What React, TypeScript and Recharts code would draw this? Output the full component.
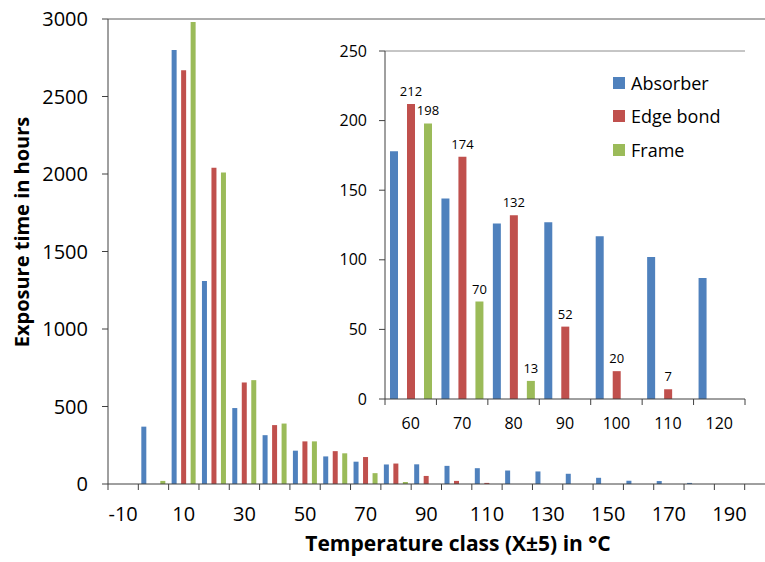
import { BarChart, Bar, XAxis, YAxis, ReferenceLine, LabelList } from "recharts";

// temperature classes, 10 K wide (X±5)
const classes = ["-10", "0", "10", "20", "30", "40", "50", "60", "70", "80", "90", "100", "110", "120", "130", "140", "150", "160", "170", "180", "190", "200"];
const absorber = [0, 370, 2800, 1310, 490, 315, 215, 178, 144, 126, 127, 117, 102, 87, 81, 66, 40, 21, 19, 7, 0, 0];
const edgeBond = [0, 0, 2670, 2040, 655, 380, 275, 212, 174, 132, 52, 20, 7, 0, 0, 0, 0, 0, 0, 0, 0, 0];
const frame = [0, 20, 2980, 2010, 670, 390, 275, 198, 70, 13, 0, 0, 0, 0, 0, 0, 0, 0, 0, 0, 0, 0];
const hourTicks = [0, 500, 1000, 1500, 2000, 2500, 3000];

// detail view of the high temperature range
const zoomFrom = classes.indexOf("60");
const zoomTo = classes.indexOf("120") + 1;
const zoomTicks = [0, 50, 100, 150, 200, 250];

const series = [
  { key: "absorber", name: "Absorber", color: "#4F81BD" },
  { key: "edgeBond", name: "Edge bond", color: "#C0504D" },
  { key: "frame", name: "Frame", color: "#9BBB59" },
];

const FONT = "'Open Sans', sans-serif";
const AXIS = "#404040";
const FRAME = "#8c8c8c";

const rows = classes.map((t, i) => ({ t, absorber: absorber[i], edgeBond: edgeBond[i], frame: frame[i] }));
const zoomRows = rows.slice(zoomFrom, zoomTo);

// Excel style category axis: tick marks between categories, labels on every other class
function MainTick(props: any) {
  const { x, y, payload } = props;
  const half = payload.offset ?? 0;
  const idx = props.index ?? payload.index ?? 0;
  return (
    <g>
      <line x1={x - half} x2={x - half} y1={y} y2={y + 6} stroke={AXIS} />
      {idx % 2 === 0 && (
        <text x={x} y={y + 37} textAnchor="middle" fontSize={20} fontFamily={FONT} fill="#000">
          {payload.value}
        </text>
      )}
    </g>
  );
}

function ZoomTick(props: any) {
  const { x, y, payload, visibleTicksCount } = props;
  const half = payload.offset ?? 0;
  const idx = props.index ?? payload.index ?? 0;
  const last = idx === (visibleTicksCount ?? zoomRows.length) - 1;
  return (
    <g>
      <line x1={x - half} x2={x - half} y1={y} y2={y + 6} stroke={AXIS} />
      {last && <line x1={x + half} x2={x + half} y1={y} y2={y + 6} stroke={AXIS} />}
      <text x={x} y={y + 30} textAnchor="middle" fontSize={16} fontFamily={FONT} fill="#000">
        {payload.value}
      </text>
    </g>
  );
}

const hideZero = (v: any) => (v ? v : "");

export default function App() {
  return (
    <div style={{ position: "absolute", left: 0, top: 0, width: 765, height: 562, overflow: "hidden", background: "#fff", fontFamily: FONT }}>
      <BarChart
        width={790}
        height={562}
        data={rows}
        margin={{ top: 19, right: 15, bottom: 0, left: 0 }}
        barSize={5}
        barGap={4.5}
      >
        <XAxis
          dataKey="t"
          interval={0}
          height={78}
          tickLine={false}
          tickSize={0}
          tickMargin={0}
          axisLine={{ stroke: AXIS }}
          tick={<MainTick />}
        />
        <YAxis
          width={108}
          domain={[0, 3000]}
          ticks={hourTicks}
          tickSize={6}
          tickMargin={14}
          axisLine={{ stroke: AXIS }}
          tickLine={{ stroke: AXIS }}
          tick={{ fill: "#000", fontSize: 20, fontFamily: FONT }}
        />
        <ReferenceLine y={3000} stroke="#5a5a5a" />
        {series.map((s) => (
          <Bar key={s.key} dataKey={s.key} name={s.name} fill={s.color} isAnimationActive={false} />
        ))}
      </BarChart>

      <div
        style={{
          position: "absolute",
          left: 22,
          top: 232,
          transform: "translate(-50%, -50%) rotate(-90deg)",
          whiteSpace: "nowrap",
          fontWeight: 700,
          fontSize: 20,
          lineHeight: 1,
        }}
      >
        Exposure time in hours
      </div>
      <div
        style={{
          position: "absolute",
          left: 458,
          top: 543,
          transform: "translate(-50%, -50%)",
          whiteSpace: "nowrap",
          fontWeight: 700,
          fontSize: 21,
          lineHeight: 1,
        }}
      >
        Temperature class (X±5) in °C
      </div>

      <div style={{ position: "absolute", left: 330, top: 30 }}>
        <BarChart
          width={430}
          height={420}
          data={zoomRows}
          margin={{ top: 21, right: 15, bottom: 0, left: 0 }}
          barSize={8}
          barGap={9}
        >
          <XAxis
            dataKey="t"
            interval={0}
            height={51}
            tickLine={false}
            tickSize={0}
            tickMargin={0}
            axisLine={{ stroke: AXIS }}
            tick={<ZoomTick />}
          />
          <YAxis
            yAxisId="v"
            width={55}
            domain={[0, 250]}
            ticks={zoomTicks}
            tickSize={6}
            tickMargin={12}
            axisLine={{ stroke: AXIS }}
            tickLine={{ stroke: AXIS }}
            tick={{ fill: "#000", fontSize: 16, fontFamily: FONT }}
          />
          <YAxis yAxisId="edge" orientation="right" width={0} tick={false} tickLine={false} axisLine={{ stroke: FRAME }} />
          <ReferenceLine yAxisId="v" y={250} stroke={FRAME} />
          <Bar yAxisId="v" dataKey="absorber" fill={series[0].color} isAnimationActive={false} />
          <Bar yAxisId="v" dataKey="edgeBond" fill={series[1].color} isAnimationActive={false}>
            <LabelList dataKey="edgeBond" position="top" offset={8} formatter={hideZero} fontSize={13} fontFamily={FONT} fill="#000" />
          </Bar>
          <Bar yAxisId="v" dataKey="frame" fill={series[2].color} isAnimationActive={false}>
            <LabelList dataKey="frame" position="top" offset={8} formatter={hideZero} fontSize={13} fontFamily={FONT} fill="#000" />
          </Bar>
        </BarChart>
      </div>

      <div style={{ position: "absolute", left: 613, top: 66 }}>
        {series.map((s) => (
          <div key={s.key} style={{ display: "flex", alignItems: "center", height: 33.5, fontSize: 18, color: "#000" }}>
            <span style={{ width: 12, height: 12, background: s.color, marginRight: 6, display: "inline-block" }} />
            {s.name}
          </div>
        ))}
      </div>
    </div>
  );
}
